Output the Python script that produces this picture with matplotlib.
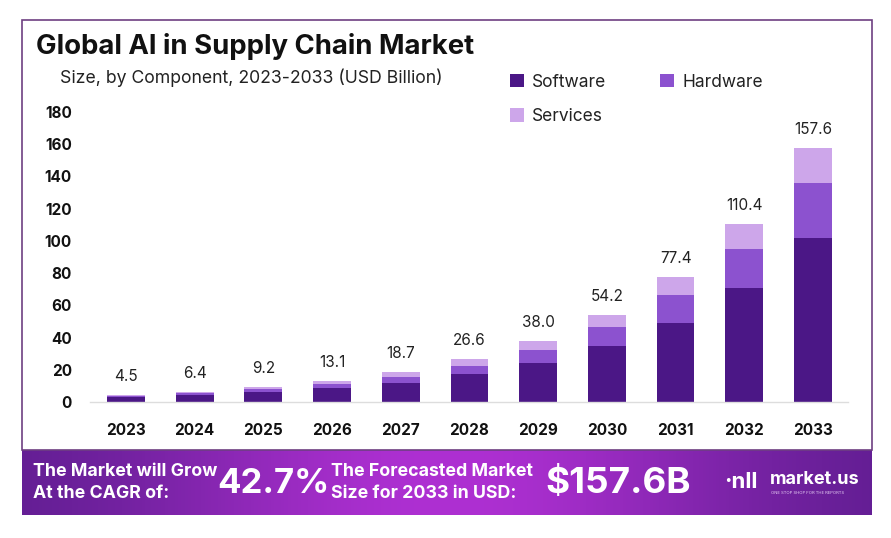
import matplotlib.pyplot as plt
import numpy as np
from matplotlib.patches import Rectangle

years = ["2023", "2024", "2025", "2026", "2027", "2028", "2029", "2030", "2031", "2032", "2033"]
totals = [4.5, 6.4, 9.2, 13.1, 18.7, 26.6, 38.0, 54.2, 77.4, 110.4, 157.6]
software = [2.9, 4.1, 5.9, 8.5, 11.6, 17.2, 24.0, 34.8, 49.2, 71.0, 101.6]
hardware = [1.0, 1.4, 2.0, 2.9, 3.7, 5.3, 8.3, 11.6, 17.2, 24.2, 34.5]
services = [round(t - s - h, 1) for t, s, h in zip(totals, software, hardware)]
y_ticks = [0, 20, 40, 60, 80, 100, 120, 140, 160, 180]

c_soft = "#4b1786"
c_hard = "#8c52cf"
c_serv = "#cda6ea"

plt.rcParams["font.family"] = ["Inter", "DejaVu Sans"]

W, H = 891, 538
fig = plt.figure(figsize=(W / 100, H / 100), dpi=100)
fig.patch.set_facecolor("white")


def fx(px):
    return px / W


def fy(py):
    return 1 - py / H


# outer frame
fig.add_artist(Rectangle((fx(22), fy(450)), fx(872) - fx(22), fy(20) - fy(450),
                         transform=fig.transFigure, facecolor="none",
                         edgecolor="#6e3f82", linewidth=1.2))

# banner gradient
bax = fig.add_axes([fx(22), fy(515), fx(872) - fx(22), fy(450) - fy(515)])
grad = np.linspace(0, 1, 256)
prof = np.exp(-((grad - 0.5) / 0.35) ** 2)
left = np.array([0x5a, 0x1c, 0x8c]) / 255
mid = np.array([0xae, 0x30, 0xd2]) / 255
img = left[None, :] * (1 - prof[:, None]) + mid[None, :] * prof[:, None]
bax.imshow(img[None, :, :], aspect="auto", extent=[0, 1, 0, 1])
bax.set_xlim(0, 1)
bax.set_ylim(0, 1)
bax.axis("off")

fig.text(fx(33), fy(472), "The Market will Grow", color="white", fontsize=12.8,
         fontweight="bold", va="center")
fig.text(fx(33), fy(494), "At the CAGR of:", color="white", fontsize=12.8,
         fontweight="bold", va="center")
fig.text(fx(217), fy(484), "42.7%", color="white", fontsize=25,
         fontweight="bold", va="center")
fig.text(fx(331), fy(472), "The Forecasted Market", color="white", fontsize=12.8,
         fontweight="bold", va="center")
fig.text(fx(331), fy(494), "Size for 2033 in USD:", color="white", fontsize=12.8,
         fontweight="bold", va="center")
fig.text(fx(545), fy(484), "$157.6B", color="white", fontsize=26.5,
         fontweight="bold", va="center")
fig.text(fx(724), fy(482), "·nll", color="white", fontsize=16,
         fontweight="bold", va="center")
fig.text(fx(770), fy(479), "market.us", color="white", fontsize=13,
         fontweight="bold", va="center")
fig.text(fx(771), fy(493), "ONE STOP SHOP FOR THE REPORTS", color="#e8d0f5",
         fontsize=3.0, va="center")

# titles
fig.text(fx(36), fy(47), "Global AI in Supply Chain Market", fontsize=19.8,
         fontweight="bold", color="#111111", va="center")
fig.text(fx(60), fy(78), "Size, by Component, 2023-2033 (USD Billion)", fontsize=12.7,
         color="#222222", va="center")

# chart
ax = fig.add_axes([fx(90), fy(402), fx(848) - fx(90), fy(112) - fy(402)])
x = np.arange(len(years))
bw = 0.55
b1 = ax.bar(x, software, bw, color=c_soft, label="Software")
b2 = ax.bar(x, hardware, bw, bottom=software, color=c_hard, label="Hardware")
bottom2 = [s + h for s, h in zip(software, hardware)]
b3 = ax.bar(x, services, bw, bottom=bottom2, color=c_serv, label="Services")

for xi, t in zip(x, totals):
    ax.annotate(f"{t:.1f}", (xi, t), xytext=(0, 8), textcoords="offset points",
                ha="center", va="bottom", fontsize=11, color="#222222")

ax.set_xlim(-0.524, 10.51)
ax.set_ylim(0, 180)
ax.set_yticks(y_ticks)
ax.set_xticks(x)
ax.set_xticklabels(years)
for lab in ax.get_xticklabels() + ax.get_yticklabels():
    lab.set_fontweight("bold")
    lab.set_fontsize(11)
    lab.set_color("#111111")
ax.tick_params(axis="both", length=0)
ax.tick_params(axis="x", pad=15)
ax.tick_params(axis="y", pad=13)
for s in ["top", "right", "left"]:
    ax.spines[s].set_visible(False)
ax.spines["bottom"].set_color("#dddddd")
ax.spines["bottom"].set_linewidth(1)
ax.set_facecolor("none")

# column-major fill: Software, Services in col 1; Hardware in col 2
leg = fig.legend(handles=[b1, b3, b2], labels=["Software", "Services", "Hardware"],
                 loc="upper left", bbox_to_anchor=(fx(494), fy(58)), ncol=2,
                 frameon=False, fontsize=12.5, handlelength=0.8, handleheight=0.8,
                 columnspacing=3.1, labelspacing=1.0, handletextpad=0.5)
for t in leg.get_texts():
    t.set_color("#222222")

fig.savefig("out.png", dpi=100)
